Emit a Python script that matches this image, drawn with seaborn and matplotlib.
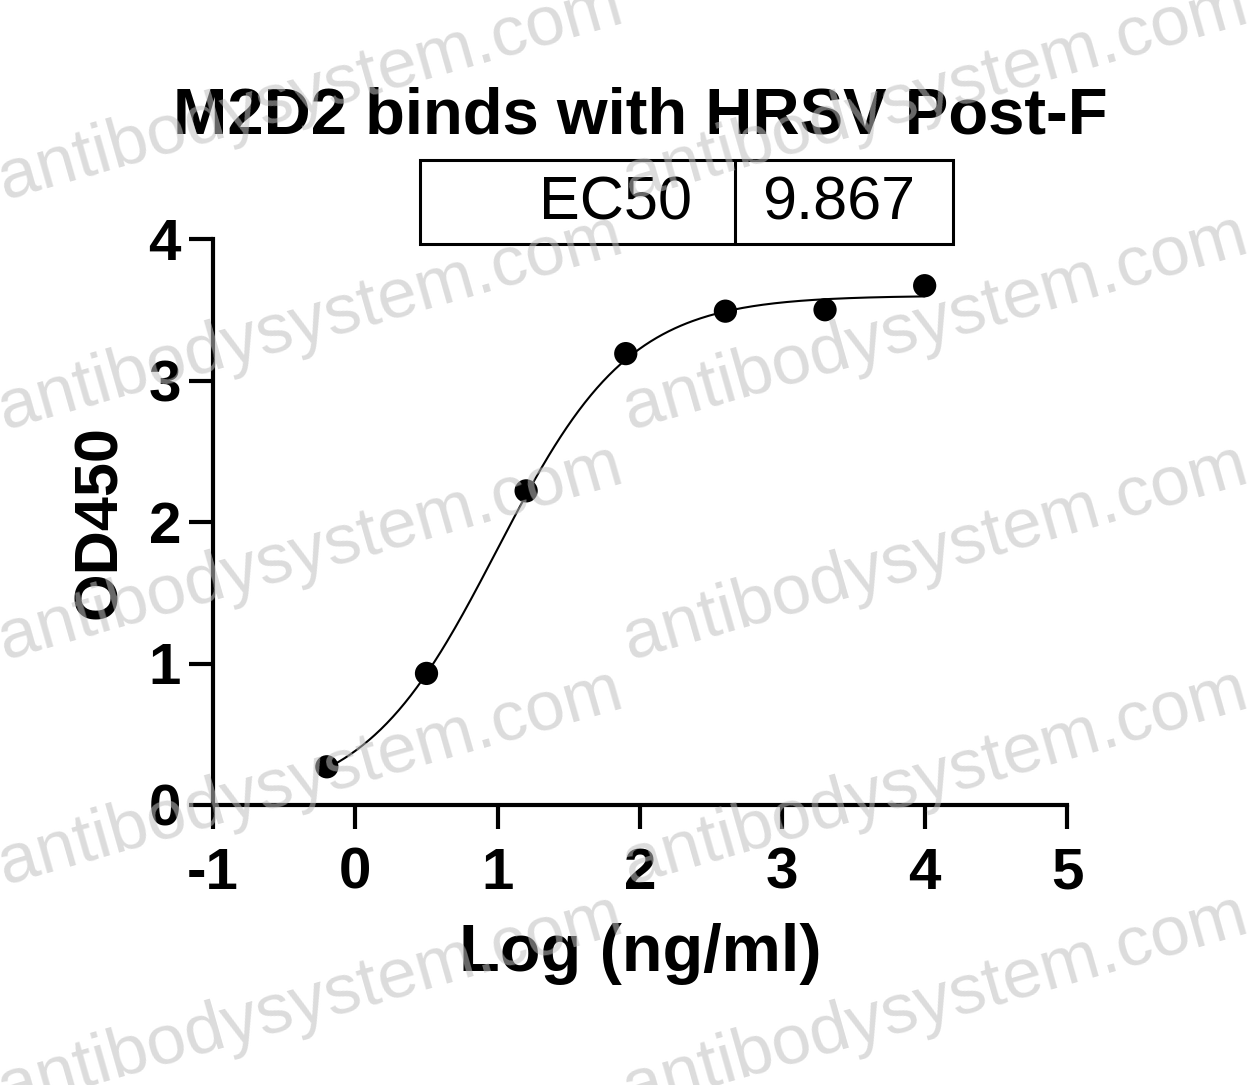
import numpy as np
import pandas as pd
import matplotlib
matplotlib.use("Agg")
import matplotlib.pyplot as plt
from matplotlib.patches import Rectangle
from matplotlib.lines import Line2D
import seaborn as sns

# measured points
log_conc = [-0.2, 0.5, 1.2, 1.9, 2.6, 3.3, 4.0]
od450 = [0.27, 0.93, 2.22, 3.19, 3.49, 3.50, 3.67]

# 4PL fit parameters (EC50 as reported)
ec50 = 9.867
bottom, top, hill = 0.0, 3.6, 0.93

xticks = [-1, 0, 1, 2, 3, 4, 5]
yticks = [0, 1, 2, 3, 4]

sns.set_style("ticks")
plt.rcParams["font.family"] = ["Liberation Sans", "DejaVu Sans"]
plt.rcParams["text.color"] = "black"
plt.rcParams["axes.labelcolor"] = "black"
plt.rcParams["xtick.color"] = "black"
plt.rcParams["ytick.color"] = "black"
plt.rcParams["axes.edgecolor"] = "black"

W, H = 1251, 1085
fig = plt.figure(figsize=(W / 100, H / 100), dpi=100)
ax = fig.add_axes([213 / W, (H - 805) / H, (1067 - 213) / W, (805 - 239) / H])

pts = pd.DataFrame({"x": log_conc, "y": od450})
xs = np.linspace(min(log_conc), max(log_conc), 300)
fit = pd.DataFrame({"x": xs,
                    "y": bottom + (top - bottom) / (1 + 10 ** ((np.log10(ec50) - xs) * hill))})

sns.lineplot(data=fit, x="x", y="y", ax=ax, color="black", linewidth=1.5)
sns.scatterplot(data=pts, x="x", y="y", ax=ax, color="black", s=280,
                edgecolor="none", zorder=3, clip_on=False)

ax.set_xlim(-1, 5)
ax.set_ylim(0, 4)
ax.set_xticks(xticks)
ax.set_yticks(yticks)
ax.set_xticklabels([str(t) for t in xticks])
ax.set_yticklabels([str(t) for t in yticks])
for s in ["top", "right"]:
    ax.spines[s].set_visible(False)
for s in ["left", "bottom"]:
    ax.spines[s].set_linewidth(3)
ax.tick_params(axis="both", length=17, width=3, labelsize=42, direction="out")
ax.tick_params(axis="x", pad=13)
ax.tick_params(axis="y", pad=6)
for lab in ax.get_xticklabels() + ax.get_yticklabels():
    lab.set_fontweight("bold")

ax.set_xlabel("Log (ng/ml)", fontsize=48, fontweight="bold", labelpad=16)
ax.set_ylabel("OD450", fontsize=44, fontweight="bold", labelpad=14)
fig.text(640 / W, 1 - 133 / H, "M2D2 binds with HRSV Post-F", ha="center",
         va="baseline", fontsize=47, fontweight="bold")

# EC50 box
fig.add_artist(Rectangle((420 / W, 1 - 244 / H), (953 - 420) / W, (244 - 160) / H,
                         transform=fig.transFigure, fill=False, lw=2.2, ec="black"))
fig.add_artist(Line2D([735 / W, 735 / W], [1 - 244 / H, 1 - 160 / H],
                      transform=fig.transFigure, lw=2.2, color="black"))
fig.text(692 / W, 1 - 220 / H, "EC50", ha="right", va="baseline", fontsize=44)
fig.text(839 / W, 1 - 220 / H, f"{ec50:.3f}", ha="center", va="baseline", fontsize=44)

# watermark
for yb in [200, 430, 660, 885, 1110]:
    for xb in [5, 630]:
        fig.text(xb / W, 1 - yb / H, "antibodysystem.com", fontsize=51,
                 color="#c0c0c0", alpha=0.55, rotation=16, rotation_mode="anchor",
                 ha="left", va="baseline", zorder=10)

fig.savefig("out.png", dpi=100)
